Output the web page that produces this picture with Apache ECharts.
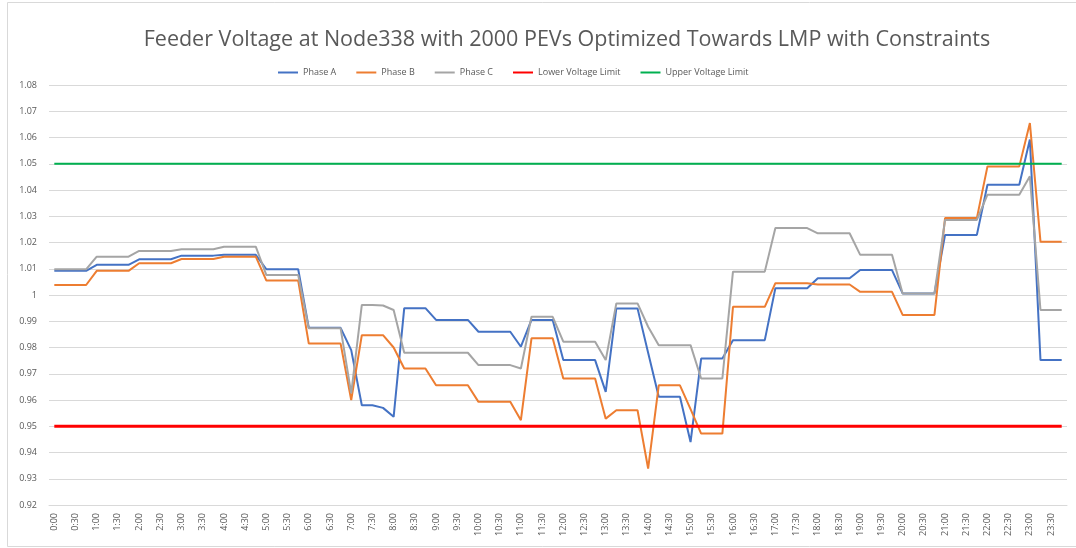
<!DOCTYPE html>
<html>
<head>
<meta charset="utf-8">
<title>Feeder Voltage at Node338</title>
<script src="https://cdn.jsdelivr.net/npm/echarts@6/dist/echarts.min.js"></script>
<style>
  html, body { margin: 0; padding: 0; background: #fff; }
  #chart { width: 1076px; height: 548px; }
</style>
</head>
<body>
<div id="chart"></div>
<script>
// 15-minute steps over the day
var times = [
  '0:00','0:15','0:30','0:45','1:00','1:15','1:30','1:45','2:00','2:15','2:30','2:45',
  '3:00','3:15','3:30','3:45','4:00','4:15','4:30','4:45','5:00','5:15','5:30','5:45',
  '6:00','6:15','6:30','6:45','7:00','7:15','7:30','7:45','8:00','8:15','8:30','8:45',
  '9:00','9:15','9:30','9:45','10:00','10:15','10:30','10:45','11:00','11:15','11:30','11:45',
  '12:00','12:15','12:30','12:45','13:00','13:15','13:30','13:45','14:00','14:15','14:30','14:45',
  '15:00','15:15','15:30','15:45','16:00','16:15','16:30','16:45','17:00','17:15','17:30','17:45',
  '18:00','18:15','18:30','18:45','19:00','19:15','19:30','19:45','20:00','20:15','20:30','20:45',
  '21:00','21:15','21:30','21:45','22:00','22:15','22:30','22:45','23:00','23:15','23:30','23:45'
];

var phaseA = [
  1.0092,1.0092,1.0092,1.0092, 1.0115,1.0115,1.0115,1.0115, 1.0136,1.0136,1.0136,1.0136, 1.0150,1.0150,1.0150,1.0150,
  1.0153,1.0153,1.0153,1.0153, 1.0098,1.0098,1.0098,1.0098, 0.9875,0.9875,0.9875,0.9875, 0.979,0.958,0.958,0.957,
  0.9536,0.995,0.995,0.995, 0.9905,0.9905,0.9905,0.9905, 0.986,0.986,0.986,0.986, 0.9803,0.9905,0.9905,0.9905,
  0.9752,0.9752,0.9752,0.9752, 0.9631,0.9949,0.9949,0.9949, 0.978,0.9612,0.9612,0.9612, 0.944,0.9758,0.9758,0.9758,
  0.9828,0.9828,0.9828,0.9828, 1.0026,1.0026,1.0026,1.0026, 1.0064,1.0064,1.0064,1.0064, 1.0095,1.0095,1.0095,1.0095,
  1.0006,1.0006,1.0006,1.0006, 1.0229,1.0229,1.0229,1.0229, 1.042,1.042,1.042,1.042, 1.0592,0.9752,0.9752,0.9752
];

var phaseB = [
  1.0038,1.0038,1.0038,1.0038, 1.0092,1.0092,1.0092,1.0092, 1.0121,1.0121,1.0121,1.0121, 1.0137,1.0137,1.0137,1.0137,
  1.0146,1.0146,1.0146,1.0146, 1.0055,1.0055,1.0055,1.0055, 0.9815,0.9815,0.9815,0.9815, 0.960,0.9847,0.9847,0.9847,
  0.980,0.972,0.972,0.972, 0.9656,0.9656,0.9656,0.9656, 0.9593,0.9593,0.9593,0.9593, 0.9523,0.9835,0.9835,0.9835,
  0.9682,0.9682,0.9682,0.9682, 0.9529,0.9561,0.9561,0.9561, 0.9339,0.9656,0.9656,0.9656, 0.9565,0.9472,0.9472,0.9472,
  0.9955,0.9955,0.9955,0.9955, 1.0045,1.0045,1.0045,1.0045, 1.004,1.004,1.004,1.004, 1.0012,1.0012,1.0012,1.0012,
  0.9924,0.9924,0.9924,0.9924, 1.0293,1.0293,1.0293,1.0293, 1.049,1.049,1.049,1.049, 1.0655,1.0203,1.0203,1.0203
];

var phaseC = [
  1.0098,1.0098,1.0098,1.0098, 1.0146,1.0146,1.0146,1.0146, 1.0168,1.0168,1.0168,1.0168, 1.0174,1.0174,1.0174,1.0174,
  1.0184,1.0184,1.0184,1.0184, 1.0076,1.0076,1.0076,1.0076, 0.9873,0.9873,0.9873,0.9873, 0.9625,0.9962,0.9962,0.996,
  0.9943,0.978,0.978,0.978, 0.978,0.978,0.978,0.978, 0.9733,0.9733,0.9733,0.9733, 0.972,0.9917,0.9917,0.9917,
  0.9822,0.9822,0.9822,0.9822, 0.9752,0.9968,0.9968,0.9968, 0.9879,0.9809,0.9809,0.9809, 0.9809,0.9682,0.9682,0.9682,
  1.0089,1.0089,1.0089,1.0089, 1.0255,1.0255,1.0255,1.0255, 1.0235,1.0235,1.0235,1.0235, 1.0153,1.0153,1.0153,1.0153,
  1.0006,1.0006,1.0006,1.0006, 1.0286,1.0286,1.0286,1.0286, 1.0382,1.0382,1.0382,1.0382, 1.0452,0.9943,0.9943,0.9943
];

var lowerLimit = 0.95;
var upperLimit = 1.05;

var chart = echarts.init(document.getElementById('chart'));

var textColor = '#595959';
var font = '"Open Sans", sans-serif';

var option = {
  animation: false,
  backgroundColor: '#fff',
  title: {
    text: 'Feeder Voltage at Node338 with 2000 PEVs Optimized Towards LMP with Constraints',
    left: 562,
    top: 24,
    textAlign: 'center',
    textStyle: {
      color: textColor,
      fontFamily: font,
      fontWeight: 'normal',
      fontSize: 21.5
    }
  },
  legend: {
    left: 273,
    top: 63,
    icon: 'rect',
    itemWidth: 20,
    itemHeight: 2,
    itemGap: 20,
    textStyle: { color: textColor, fontFamily: font, fontSize: 9 },
    data: ['Phase A', 'Phase B', 'Phase C', 'Lower Voltage Limit', 'Upper Voltage Limit']
  },
  grid: {
    left: 49,
    right: 9,
    top: 85,
    bottom: 43,
    containLabel: false
  },
  xAxis: {
    type: 'category',
    data: times,
    boundaryGap: true,
    axisLine: { lineStyle: { color: '#d9d9d9', width: 1 } },
    axisTick: { show: false },
    axisLabel: {
      interval: 1,
      rotate: 90,
      color: textColor,
      fontFamily: font,
      fontSize: 9,
      margin: 8
    }
  },
  yAxis: {
    type: 'value',
    min: 0.92,
    max: 1.08,
    interval: 0.01,
    axisLine: { show: false },
    axisTick: { show: false },
    splitLine: { lineStyle: { color: '#d9d9d9', width: 1 } },
    axisLabel: {
      color: textColor,
      fontFamily: font,
      fontSize: 9,
      margin: 12
    }
  },
  series: [
    { name: 'Phase A', type: 'line', data: phaseA, symbol: 'none', color: '#4472C4', lineStyle: { width: 2 } },
    { name: 'Phase B', type: 'line', data: phaseB, symbol: 'none', color: '#ED7D31', lineStyle: { width: 2 } },
    { name: 'Phase C', type: 'line', data: phaseC, symbol: 'none', color: '#A5A5A5', lineStyle: { width: 2 } },
    { name: 'Lower Voltage Limit', type: 'line', data: times.map(function () { return lowerLimit; }), symbol: 'none', color: '#FF0000', lineStyle: { width: 3 } },
    { name: 'Upper Voltage Limit', type: 'line', data: times.map(function () { return upperLimit; }), symbol: 'none', color: '#00B050', lineStyle: { width: 2 } }
  ],
  graphic: [
    {
      type: 'rect',
      silent: true,
      shape: { x: 7.5, y: 2.5, width: 1100, height: 544 },
      style: { fill: 'none', stroke: '#d9d9d9', lineWidth: 1 }
    }
  ]
};

chart.setOption(option);
</script>
</body>
</html>
